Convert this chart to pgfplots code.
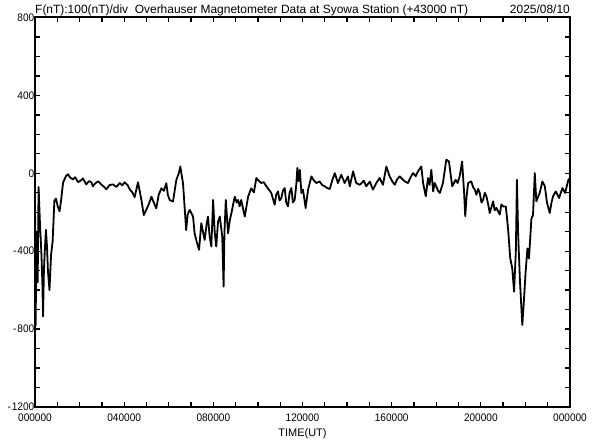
\documentclass[border=0pt]{standalone}
\usepackage{fontspec}
\setmainfont{Liberation Sans}
\newfontfamily\narrowfont[FakeStretch=0.92]{Liberation Sans}
\usepackage{pgfplots}
\pgfplotsset{compat=1.18}
\begin{document}
\begin{tikzpicture}
\useasboundingbox (0,0) rectangle (592bp,440bp);
\begin{axis}[
  at={(35bp,33bp)}, anchor=south west,
  scale only axis, width=535bp, height=389.5bp,
  xmin=0, xmax=24, ymin=-1200, ymax=800,
  xtick={0,4,...,24},
  xticklabels={000000,040000,080000,120000,160000,200000,000000},
  minor xtick={1,2,3,5,6,7,9,10,11,13,14,15,17,18,19,21,22,23},
  ytick={-1200,-800,-400,0,400,800},
  yticklabels={-\kern1bp1200,-\kern1bp800,-\kern1bp400,0,400,800},
  minor ytick={-1100,-1000,-900,-700,-600,-500,-300,-200,-100,100,200,300,500,600,700},
  tick align=inside,
  major tick length=5bp, minor tick length=5bp,
  every tick/.style={line width=1.3bp, black},
  axis line style={line width=2bp, black},
  ticklabel style={font=\narrowfont\fontsize{11}{12}\selectfont},
  yticklabel style={inner xsep=0.5bp},
  xticklabel style={inner ysep=0pt, yshift=-7bp},
  clip=true,
]
\addplot[black, line width=1.8bp, line join=round] coordinates {
(0.00,-120) (0.03,-780) (0.06,-350) (0.09,-300) (0.12,-560) (0.16,-70) (0.22,-250) (0.29,-420)
(0.33,-560) (0.36,-735) (0.40,-500) (0.43,-420) (0.49,-290) (0.54,-380) (0.58,-500) (0.65,-600) (0.72,-420)
(0.79,-350) (0.87,-140) (0.94,-130) (1.02,-170) (1.10,-195) (1.17,-140) (1.26,-47)
(1.39,-15) (1.48,-5) (1.58,-22) (1.70,-31) (1.80,-20) (1.93,-45) (2.05,-38) (2.15,-26) (2.30,-57)
(2.42,-40) (2.53,-46) (2.60,-67) (2.70,-52) (2.83,-41) (2.95,-55) (3.05,-65) (3.20,-82) (3.35,-60) (3.50,-57)
(3.65,-70) (3.80,-50) (3.92,-62) (4.02,-46) (4.15,-60) (4.25,-82) (4.38,-100) (4.47,-123) (4.62,-46)
(4.77,-134) (4.88,-215) (4.99,-188) (5.10,-160) (5.22,-120) (5.33,-150) (5.44,-180) (5.55,-110) (5.67,-77)
(5.78,-90) (5.89,-51) (5.96,-110) (6.04,-137) (6.19,-145) (6.34,-34) (6.45,0) (6.52,35) (6.58,-10) (6.64,-51)
(6.78,-291) (6.85,-210) (6.94,-188) (7.09,-222) (7.16,-308) (7.25,-350) (7.36,-393) (7.46,-256)
(7.61,-342) (7.70,-260) (7.76,-222) (7.83,-320) (7.91,-376) (7.99,-137) (8.06,-300) (8.13,-376) (8.21,-250) (8.29,-222)
(8.40,-325) (8.46,-582) (8.50,-300) (8.56,-137) (8.66,-308) (8.74,-240) (8.81,-205) (8.96,-120)
(9.05,-150) (9.11,-137) (9.18,-170) (9.25,-137) (9.33,-180) (9.41,-222) (9.56,-120) (9.70,-77) (9.82,-98)
(9.93,-24) (10.05,-40) (10.15,-50) (10.26,-45) (10.38,-67) (10.50,-85) (10.60,-101) (10.75,-161) (10.82,-110) (10.90,-93)
(10.97,-140) (11.05,-127) (11.12,-90) (11.20,-76) (11.27,-150) (11.35,-170) (11.42,-100) (11.50,-76) (11.57,-150) (11.65,-136) (11.72,-60) (11.77,27)
(11.82,-40) (11.88,18) (11.95,-101) (12.02,-84) (12.08,-130) (12.14,-178) (12.25,-84) (12.40,-16)
(12.50,-35) (12.62,-50) (12.77,-42) (12.88,-60) (13.00,-67) (13.10,-75) (13.22,-81) (13.35,-30) (13.45,1) (13.59,-50)
(13.74,-7) (13.89,-50) (14.04,-16) (14.12,-67) (14.27,10) (14.41,-50)
(14.57,-59) (14.75,-38) (14.86,-67) (15.02,-42) (15.16,-84) (15.31,-50)
(15.46,-24) (15.61,-59) (15.76,35) (15.91,-16) (16.02,-40) (16.14,-59) (16.25,-30) (16.36,-16)
(16.48,-30) (16.59,-42) (16.73,-50) (16.85,-20) (16.96,1) (17.08,-15) (17.18,10) (17.33,35) (17.41,-50)
(17.53,-118) (17.63,-24) (17.70,-60) (17.78,18) (17.86,-93) (17.93,-50) (18.00,-67) (18.08,-90) (18.16,-101)
(18.30,-50) (18.45,70) (18.57,61) (18.65,-10) (18.72,-67) (18.87,-33) (18.96,-50) (19.05,-16)
(19.16,61) (19.25,-101) (19.30,-220) (19.36,-120) (19.43,-50) (19.57,-42) (19.65,-70) (19.73,-84)
(19.80,-110) (19.88,-80) (19.95,-101) (20.03,-150) (20.10,-136) (20.18,-100) (20.25,-118) (20.33,-160) (20.40,-204) (20.55,-144)
(20.62,-190) (20.70,-178) (20.85,-212) (20.92,-160) (21.00,-170) (21.12,-170) (21.22,-283) (21.32,-437)
(21.41,-488) (21.49,-608) (21.57,-403) (21.62,-33) (21.67,-300) (21.75,-540)
(21.82,-694) (21.86,-779) (21.92,-677) (22.01,-505) (22.09,-386) (22.16,-437)
(22.27,-232) (22.34,-215) (22.42,1) (22.49,-144) (22.57,-120) (22.64,-101) (22.76,-42)
(22.87,-67) (22.97,-152) (23.09,-204) (23.17,-150) (23.24,-118) (23.36,-93) (23.51,-127)
(23.66,-76) (23.78,-101) (23.93,-33) (24.00,-25)
};
\end{axis}
\node[anchor=base west, inner sep=0pt, font=\fontsize{12}{13}\selectfont] at ([yshift=4bp]current axis.north west) {F(nT):100(nT)/div\ \ Overhauser Magnetometer Data at Syowa Station (+43000 nT)};
\node[anchor=base east, inner sep=0pt, font=\fontsize{12}{13}\selectfont] at ([yshift=4bp]current axis.north east) {2025/08/10};
\node[anchor=base, inner sep=0pt, font=\fontsize{11}{12}\selectfont] at ([yshift=-29bp]current axis.south) {TIME(UT)};
\end{tikzpicture}
\end{document}
